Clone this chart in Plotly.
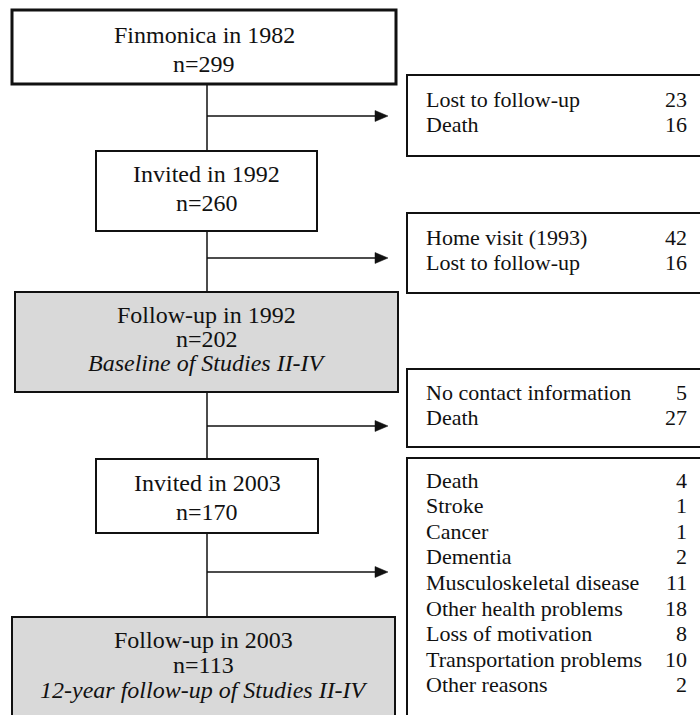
import plotly.graph_objects as go

# Main flow (left column)
main_titles = ["Finmonica in 1982", "Invited in 1992", "Follow-up in 1992",
               "Invited in 2003", "Follow-up in 2003"]
main_n = [299, 260, 202, 170, 113]
main_notes = ["", "", "Baseline of Studies II-IV", "", "12-year follow-up of Studies II-IV"]

# Exclusions (right column)
excl_labels = [
    ["Lost to follow-up", "Death"],
    ["Home visit (1993)", "Lost to follow-up"],
    ["No contact information", "Death"],
    ["Death", "Stroke", "Cancer", "Dementia", "Musculoskeletal disease",
     "Other health problems", "Loss of motivation", "Transportation problems",
     "Other reasons"],
]
excl_counts = [
    [23, 16],
    [42, 16],
    [5, 27],
    [4, 1, 1, 2, 11, 18, 8, 10, 2],
]

FONT = "Liberation Serif, Times New Roman, serif"
INK = "#111111"
GREY = "#d9d9d9"

# layout geometry (pixels, y grows downward)
main_boxes = [  # x0, x1, y0, y1, fill, border width, text line y's
    (12, 396, 10, 84, "white", 3, [35, 64]),
    (96, 317, 151, 231, "white", 2, [174, 203]),
    (15, 398, 292, 392, GREY, 2, [315, 339, 363]),
    (96, 318, 459, 533, "white", 2, [483, 512]),
    (12, 395, 617, 740, GREY, 2, [640, 665, 690]),
]
excl_boxes = [  # y0, y1, first row y
    (75, 156, 99),
    (213, 293, 237),
    (369, 447, 392),
    (458, 740, 480),
]
arrow_y = [116, 258, 426, 572]
spine_x = 207
row_gap = 25.6

fig = go.Figure()
shapes = []
annotations = []

for i, (x0, x1, y0, y1, fill, lw, ys) in enumerate(main_boxes):
    shapes.append(dict(type="rect", x0=x0, x1=x1, y0=y0, y1=y1,
                       fillcolor=fill, line=dict(color=INK, width=lw), layer="below"))
    lines = [main_titles[i], f"n={main_n[i]}"]
    if main_notes[i]:
        lines.append(f"<i>{main_notes[i]}</i>")
    for txt, yy in zip(lines, ys):
        annotations.append(dict(x=(x0 + x1) / 2, y=yy, text=txt, showarrow=False,
                                xanchor="center", yanchor="middle",
                                font=dict(family=FONT, size=24, color=INK)))

# connectors between main boxes and arrows to the exclusion boxes
for i, ay in enumerate(arrow_y):
    top = main_boxes[i][3]
    bottom = main_boxes[i + 1][2]
    shapes.append(dict(type="line", x0=spine_x, x1=spine_x, y0=top + 1, y1=bottom,
                       line=dict(color=INK, width=1.5)))
    shapes.append(dict(type="line", x0=spine_x, x1=376, y0=ay, y1=ay,
                       line=dict(color=INK, width=1.5)))
    shapes.append(dict(type="path", path=f"M 375 {ay - 5.5} L 388 {ay} L 375 {ay + 5.5} Z",
                       fillcolor=INK, line=dict(color=INK, width=0.5)))

for j, (y0, y1, ry) in enumerate(excl_boxes):
    shapes.append(dict(type="rect", x0=407, x1=702, y0=y0, y1=y1,
                       fillcolor="white", line=dict(color=INK, width=2), layer="below"))
    for k, (lab, cnt) in enumerate(zip(excl_labels[j], excl_counts[j])):
        yy = ry + k * row_gap
        annotations.append(dict(x=424, y=yy, text=lab, showarrow=False,
                                xanchor="left", yanchor="middle",
                                font=dict(family=FONT, size=22, color=INK)))
        annotations.append(dict(x=689, y=yy, text=str(cnt), showarrow=False,
                                xanchor="right", yanchor="middle",
                                font=dict(family=FONT, size=22, color=INK)))

fig.update_layout(
    width=700, height=715,
    margin=dict(l=0, r=0, t=0, b=0),
    paper_bgcolor="white", plot_bgcolor="white",
    shapes=shapes, annotations=annotations,
    showlegend=False,
)
fig.update_xaxes(range=[0, 700], visible=False, fixedrange=True)
fig.update_yaxes(range=[715, 0], visible=False, fixedrange=True)

fig.write_html("out.html", config={"displayModeBar": False},
               post_script="document.body.style.margin='0';document.body.style.overflow='hidden';")
